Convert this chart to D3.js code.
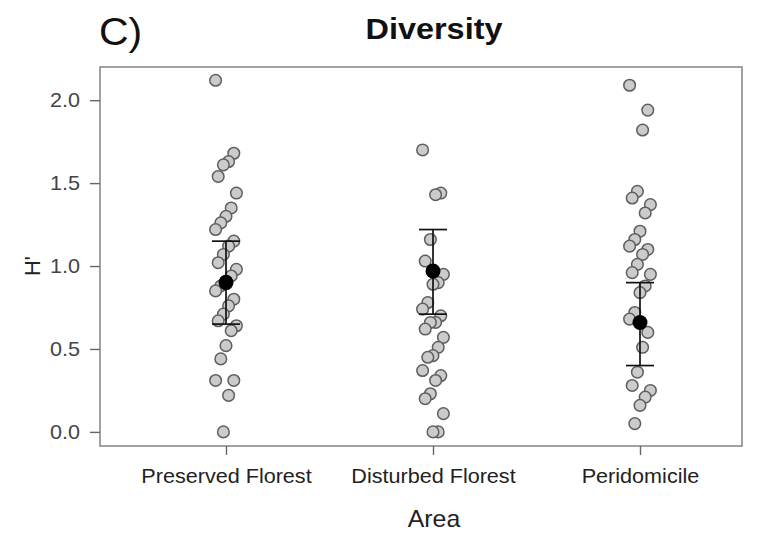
<!DOCTYPE html>
<html><head><meta charset="utf-8">
<script src="https://cdn.jsdelivr.net/npm/d3@7"></script>
<style>body{margin:0;background:#fff;} svg{display:block;font-family:"Liberation Sans",Arial,sans-serif;}</style>
</head><body><svg id="c" width="758" height="535"></svg>
<script>
const categories = ["Preserved Florest", "Disturbed Florest", "Peridomicile"];
const preserved = [2.12,1.68,1.63,1.61,1.54,1.44,1.35,1.30,1.26,1.22,1.15,1.12,1.07,1.02,0.98,0.94,0.91,0.88,0.85,0.80,0.76,0.71,0.67,0.64,0.61,0.52,0.44,0.31,0.31,0.22,0.0];
const disturbed = [1.70,1.44,1.43,1.16,1.03,0.95,0.90,0.89,0.78,0.74,0.70,0.66,0.66,0.62,0.57,0.51,0.46,0.45,0.37,0.34,0.31,0.23,0.20,0.11,0.0,0.0];
const peridomicile = [2.09,1.94,1.82,1.45,1.41,1.37,1.32,1.21,1.16,1.12,1.10,1.07,1.01,0.96,0.95,0.88,0.84,0.72,0.68,0.60,0.51,0.36,0.28,0.25,0.21,0.16,0.05];
const means = [0.90, 0.97, 0.66];
const lower = [0.65, 0.71, 0.40];
const upper = [1.15, 1.22, 0.90];
const yTicks = [0, 0.5, 1.0, 1.5, 2.0];

const series = [preserved, disturbed, peridomicile];
const svg = d3.select("#c");
const L = 100, R = 742, T = 67, B = 446;
const SX = 1.08; // horizontal text stretch
const x = d3.scalePoint().domain(categories).range([226, 640]);
const y = d3.scaleLinear().domain([-0.085, 2.2]).range([B, T]);

// frame
svg.append("rect").attr("x", L).attr("y", T).attr("width", R - L).attr("height", B - T)
  .attr("fill", "none").attr("stroke", "#8a8a8a").attr("stroke-width", 1.6);

// y axis
const ya = svg.append("g").attr("transform", `translate(${L},0)`)
  .call(d3.axisLeft(y).tickValues(yTicks).tickFormat(d3.format(".1f")).tickSize(10).tickPadding(10));
ya.select(".domain").remove();
ya.selectAll("line").attr("stroke", "#666").attr("stroke-width", 1.4);
ya.selectAll("text").attr("font-size", 20).attr("fill", "#444")
  .attr("transform", function() { return `scale(${SX},1)`; })
  .attr("x", -20 / SX);

// x axis
const xa = svg.append("g").attr("transform", `translate(0,${B})`)
  .call(d3.axisBottom(x).tickSize(9).tickPadding(14));
xa.select(".domain").remove();
xa.selectAll("line").attr("stroke", "#666").attr("stroke-width", 1.4);
xa.selectAll("text").attr("font-size", 20).attr("fill", "#222")
  .attr("transform", `scale(${SX},1)`);

// points
function jit(i) { return (((i * 7) % 9) - 4) * 2.6; }
series.forEach((vals, k) => {
  svg.append("g").selectAll("circle").data(vals).join("circle")
    .attr("cx", (d, i) => x(categories[k]) + jit(i))
    .attr("cy", d => y(d))
    .attr("r", 5.8)
    .attr("fill", "#cbcbcb").attr("stroke", "#5e5e5e").attr("stroke-width", 1.5);
});

// error bars and means
categories.forEach((c, k) => {
  const g = svg.append("g").attr("stroke", "#111").attr("stroke-width", 1.7);
  g.append("line").attr("x1", x(c)).attr("x2", x(c)).attr("y1", y(upper[k])).attr("y2", y(lower[k]));
  g.append("line").attr("x1", x(c) - 14).attr("x2", x(c) + 14).attr("y1", y(upper[k])).attr("y2", y(upper[k]));
  g.append("line").attr("x1", x(c) - 14).attr("x2", x(c) + 14).attr("y1", y(lower[k])).attr("y2", y(lower[k]));
  svg.append("circle").attr("cx", x(c)).attr("cy", y(means[k])).attr("r", 7.5).attr("fill", "#000");
});

// texts
svg.append("text").attr("transform", `translate(434,39) scale(${SX},1)`).attr("text-anchor", "middle")
  .attr("font-size", 30).attr("font-weight", "bold").attr("fill", "#111").text("Diversity");
svg.append("text").attr("transform", `translate(99,45) scale(${SX},1)`)
  .attr("font-size", 38).attr("fill", "#111").text("C)");
svg.append("text").attr("transform", `translate(434,527) scale(${SX},1)`).attr("text-anchor", "middle")
  .attr("font-size", 23).attr("fill", "#222").text("Area");
svg.append("text").attr("transform", "translate(40,266) rotate(-90)").attr("text-anchor", "middle")
  .attr("font-size", 22).attr("fill", "#222").text("H'");
</script></body></html>
